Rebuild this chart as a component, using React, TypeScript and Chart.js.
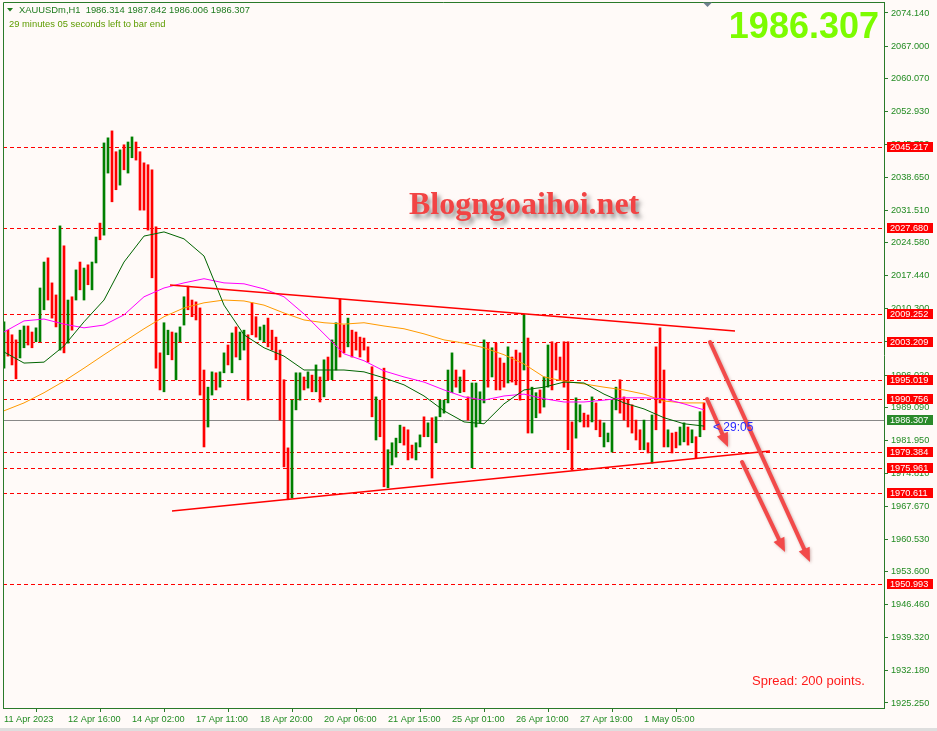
import React, { useEffect, useRef } from 'react';
import { Chart, registerables } from 'chart.js';

Chart.register(...registerables);

const W = 937;
const H = 731;

// ---------- text ----------
const symbolHeader = 'XAUUSDm,H1  1986.314 1987.842 1986.006 1986.307';
const timerText = '29 minutes 05 seconds left to bar end';
const bigPriceText = '1986.307';
const watermarkText = 'Blogngoaihoi.net';
const spreadText = 'Spread: 200 points.';
const countdownText = '< 29:05';
const lastPrice = 1986.307;

// ---------- price bars (one entry per 2 hourly bars) ----------
const hoursPerBar = 2;
const barHigh = [
  2007.5, 2005.7, 2004.7, 2003.6, 2005.7, 2006.6, 2006.6, 2005.3, 2006.2, 2014.8,
  2020.4, 2021.3, 2015.9, 2013.3, 2028.2, 2023.9, 2012.2, 2012.9, 2018.7, 2020.4,
  2019.1, 2019.8, 2020.4, 2025.8, 2028.8, 2046.1, 2047.2, 2048.7, 2044.2, 2044.6,
  2045.7, 2046.3, 2047.4, 2046.3, 2044.2, 2041.8, 2041.4, 2040.3, 2028.0, 2000.8,
  2007.3, 2005.7, 2005.3, 2005.1, 2006.4, 2012.9, 2015.2, 2012.2, 2011.8, 2010.5,
  1997.1, 1993.4, 1996.7, 1996.5, 1996.7, 2000.8, 2002.5, 2005.1, 2006.4, 2005.3,
  2005.7, 2004.7, 2011.6, 2008.6, 2006.4, 2006.8, 2008.3, 2005.7, 2004.2, 2001.4,
  1995.0, 1980.3, 1990.6, 1996.5, 1996.5, 1995.6, 1996.7, 1996.0, 1998.2, 1995.6,
  1999.3, 1999.9, 2003.6, 2007.3, 2012.4, 2006.8, 2008.3, 2005.7, 2005.3, 2004.2,
  2004.0, 2002.1, 1997.8, 1991.3, 1990.6, 1997.5, 1979.9, 1981.4, 1982.4, 1985.2,
  1984.8, 1984.2, 1980.9, 1981.4, 1983.1, 1987.0, 1985.7, 1986.8, 1987.0, 1990.6,
  1990.6, 1997.1, 2000.8, 1997.1, 1995.6, 1997.1, 1991.3, 1994.3, 1994.3, 1992.4,
  2003.6, 2002.9, 2001.9, 2002.9, 1999.7, 1998.6, 2002.1, 1999.9, 2001.4, 2000.8,
  2009.0, 2004.0, 1993.4, 1992.2, 1992.8, 1995.6, 2002.5, 2003.2, 2002.9, 1999.9,
  2003.2, 2003.2, 1985.9, 1991.1, 1989.6, 1987.8, 1987.4, 1991.3, 1990.0, 1986.3,
  1985.7, 1983.5, 1990.6, 1993.4, 1995.0, 1991.3, 1990.6, 1989.6, 1986.3, 1984.2,
  1986.3, 1981.4, 1987.4, 2002.1, 2006.2, 1997.1, 1984.2, 1983.5, 1983.7, 1984.8,
  1985.7, 1984.8, 1984.2, 1982.7, 1988.1, 1990.0,
];
const barLow = [
  1997.5, 2000.1, 1998.2, 1995.2, 1999.7, 2001.9, 2002.5, 2001.9, 2003.2, 2003.2,
  2010.1, 2012.2, 2008.3, 2006.4, 2001.4, 2000.8, 2002.9, 2005.7, 2012.2, 2014.4,
  2012.2, 2015.5, 2014.4, 2020.2, 2025.2, 2026.2, 2039.6, 2033.4, 2036.0, 2037.0,
  2040.3, 2039.6, 2042.9, 2042.4, 2031.6, 2031.6, 2027.3, 2017.0, 1997.5, 1992.8,
  1992.4, 2000.4, 1999.3, 1995.0, 2003.2, 2006.8, 2010.1, 2008.6, 2007.9, 1991.7,
  1980.5, 1984.8, 1991.7, 1992.8, 1993.4, 1996.5, 1998.2, 1996.5, 1999.9, 1999.3,
  2001.4, 1990.6, 2004.7, 2004.2, 2003.6, 2003.2, 2002.1, 2001.4, 1999.3, 1986.3,
  1976.2, 1969.1, 1969.5, 1988.5, 1990.6, 1992.8, 1993.2, 1992.4, 1992.4, 1990.2,
  1991.3, 1995.0, 1995.0, 1997.1, 1999.9, 2000.8, 2002.1, 1999.9, 2001.4, 1999.9,
  2001.4, 1998.8, 1987.0, 1982.0, 1982.7, 1971.9, 1971.7, 1976.6, 1978.3, 1981.4,
  1980.9, 1977.7, 1978.1, 1977.7, 1980.5, 1982.7, 1982.7, 1973.8, 1981.4, 1987.0,
  1987.8, 1990.0, 1992.2, 1993.4, 1992.2, 1992.4, 1986.3, 1976.0, 1984.8, 1985.7,
  1990.0, 1993.4, 1995.6, 1992.8, 1992.8, 1993.4, 1994.3, 1994.5, 1993.9, 1990.6,
  1997.1, 1983.5, 1983.5, 1986.8, 1987.8, 1989.1, 1993.4, 1992.8, 1997.1, 1995.0,
  1993.4, 1979.9, 1975.5, 1982.4, 1985.9, 1984.8, 1984.8, 1985.9, 1984.2, 1982.7,
  1980.5, 1981.6, 1979.4, 1988.5, 1987.8, 1986.3, 1984.8, 1983.5, 1982.0, 1979.9,
  1979.9, 1979.2, 1977.0, 1984.2, 1990.0, 1980.5, 1980.5, 1979.2, 1980.3, 1980.9,
  1981.6, 1980.9, 1981.4, 1978.1, 1982.7, 1984.2,
];
// 1 = bullish (green), 0 = bearish (red)
const barUp = [
  1, 0, 0, 0, 1, 1, 0, 0, 1, 1,
  1, 0, 0, 0, 1, 0, 1, 0, 1, 0,
  1, 0, 1, 1, 0, 1, 1, 0, 0, 1,
  0, 1, 1, 0, 0, 0, 0, 0, 0, 0,
  1, 1, 0, 1, 1, 1, 0, 0, 0, 0,
  0, 1, 1, 0, 1, 1, 0, 1, 0, 1,
  1, 0, 0, 0, 1, 1, 0, 0, 0, 0,
  0, 0, 1, 1, 1, 0, 1, 0, 1, 0,
  1, 0, 1, 1, 0, 0, 1, 0, 0, 0,
  0, 0, 0, 1, 0, 0, 1, 1, 1, 1,
  0, 0, 0, 1, 1, 0, 1, 0, 1, 1,
  1, 1, 1, 0, 1, 0, 0, 1, 1, 1,
  1, 0, 1, 0, 0, 0, 1, 0, 0, 0,
  1, 0, 1, 1, 0, 1, 1, 0, 0, 0,
  0, 0, 0, 1, 1, 0, 0, 1, 0, 0,
  1, 1, 1, 1, 0, 0, 0, 0, 0, 0,
  1, 0, 1, 0, 0, 0, 1, 0, 0, 1,
  1, 0, 1, 0, 1, 0,
];

// ---------- moving averages (sampled every 10 hourly bars) ----------
const maStep = 10;
const maFast = [
  2001.0, 1998.6, 1998.8, 2002.3, 2007.5, 2012.2, 2020.4, 2026.0, 2026.9, 2025.4,
  2021.7, 2011.1, 2004.7, 2001.9, 2000.1, 1997.1, 1997.1, 1997.1, 1996.7, 1995.4,
  1993.9, 1991.5, 1988.3, 1985.9, 1985.5, 1989.8, 1992.8, 1993.4, 1994.5, 1994.3,
  1991.9, 1990.0, 1988.7, 1986.8, 1985.5, 1985.0,
];
const maMid = [
  2005.3, 2007.7, 2008.1, 2007.0, 2006.2, 2006.8, 2009.0, 2012.9, 2014.8, 2015.9,
  2016.8, 2015.9, 2015.7, 2014.6, 2012.9, 2009.2, 2004.9, 2000.6, 1999.1, 1996.9,
  1995.6, 1994.5, 1992.8, 1991.3, 1990.6, 1991.5, 1991.9, 1990.9, 1990.2, 1990.2,
  1990.6, 1991.1, 1991.1, 1990.9, 1989.8, 1988.5,
];
const maSlow = [
  1988.3, 1990.0, 1992.2, 1994.7, 1997.5, 2000.4, 2003.2, 2006.0, 2008.6, 2010.5,
  2011.6, 2012.2, 2012.0, 2011.1, 2009.4, 2007.9, 2007.3, 2007.0, 2007.3, 2006.6,
  2006.0, 2004.9, 2003.6, 2002.9, 2001.9, 2000.4, 1998.4, 1995.6, 1994.7, 1994.1,
  1993.4, 1992.8, 1991.9, 1990.4, 1990.0, 1990.0,
];

// ---------- levels, trend lines, arrows ----------
const levelPrices = [2045.217, 2027.68, 2009.252, 2003.209, 1995.019, 1990.756, 1979.384, 1975.961, 1970.611, 1950.993];
const trendUpperBars = [83, 365.5];
const trendUpperPrices = [2015.45, 2005.53];
const trendLowerBars = [84, 383];
const trendLowerPrices = [1966.69, 1979.63];
const arrowStartBars = [353, 351.5, 369];
const arrowStartPrices = [2003.15, 1990.85, 1977.26];
const arrowEndBars = [403, 362, 390.5];
const arrowEndPrices = [1955.7, 1980.5, 1957.84];

// ---------- axes ----------
const yMin = 1924.17;
const yMax = 2076.51;
const yTickValues = [
  2074.14, 2067.0, 2060.07, 2052.93, 2045.79, 2038.65, 2031.51, 2024.58, 2017.44, 2010.3,
  2003.16, 1996.02, 1989.09, 1981.95, 1974.81, 1967.67, 1960.53, 1953.6, 1946.46, 1939.32,
  1932.18, 1925.25,
];
const xMin = -0.5;
const xMax = 440;
const xTickBars = [0, 32, 64, 96, 128, 160, 192, 224, 256, 288, 320];
const xTickLabels = [
  '11 Apr 2023', '12 Apr 16:00', '14 Apr 02:00', '17 Apr 11:00', '18 Apr 20:00', '20 Apr 06:00',
  '21 Apr 15:00', '25 Apr 01:00', '26 Apr 10:00', '27 Apr 19:00', '1 May 05:00',
];

const AXIS_GREEN = '#228b22';
const FRAME_GREEN = '#2a7a2a';
const UP_COLOR = '#008000';
const DOWN_COLOR = '#ff0000';
const FONT = 'Liberation Sans';

const mt4Plugin = {
  id: 'mt4Decor',
  beforeDraw(chart: any) {
    const ctx = chart.ctx;
    ctx.save();
    ctx.fillStyle = '#fffaf8';
    ctx.fillRect(0, 0, W, H);
    ctx.fillStyle = '#dedede';
    ctx.fillRect(0, 728, W, 3);
    ctx.restore();
  },
  beforeDatasetsDraw(chart: any) {
    const { ctx, chartArea: a, scales } = chart;
    const y = scales.y;
    ctx.save();
    // current price line
    const py = Math.round(y.getPixelForValue(lastPrice)) + 0.5;
    ctx.strokeStyle = '#888888';
    ctx.lineWidth = 1;
    ctx.beginPath();
    ctx.moveTo(a.left, py);
    ctx.lineTo(a.right, py);
    ctx.stroke();
    // dashed levels
    ctx.strokeStyle = '#ff0000';
    ctx.setLineDash([4, 3]);
    levelPrices.forEach((p) => {
      const ly = Math.round(y.getPixelForValue(p)) + 0.5;
      ctx.beginPath();
      ctx.moveTo(a.left, ly);
      ctx.lineTo(a.right, ly);
      ctx.stroke();
    });
    ctx.restore();
  },
  afterDatasetsDraw(chart: any) {
    const { ctx, scales } = chart;
    const x = scales.x;
    const y = scales.y;
    ctx.save();
    // watermark
    ctx.font = 'bold 32px "Liberation Serif"';
    ctx.textBaseline = 'alphabetic';
    ctx.textAlign = 'left';
    ctx.shadowColor = 'rgba(60,60,60,0.55)';
    ctx.shadowOffsetX = 3;
    ctx.shadowOffsetY = 4;
    ctx.shadowBlur = 4;
    ctx.fillStyle = '#f24444';
    ctx.fillText(watermarkText, 409, 214);
    ctx.shadowColor = 'transparent';

    // arrows
    ctx.shadowColor = 'rgba(120,40,40,0.35)';
    ctx.shadowBlur = 3;
    ctx.shadowOffsetX = 1;
    ctx.shadowOffsetY = 1;
    ctx.strokeStyle = '#f24a4a';
    ctx.fillStyle = '#f24a4a';
    ctx.lineWidth = 4;
    ctx.lineCap = 'round';
    for (let i = 0; i < arrowStartBars.length; i++) {
      const x1 = x.getPixelForValue(arrowStartBars[i]);
      const y1 = y.getPixelForValue(arrowStartPrices[i]);
      const x2 = x.getPixelForValue(arrowEndBars[i]);
      const y2 = y.getPixelForValue(arrowEndPrices[i]);
      const ang = Math.atan2(y2 - y1, x2 - x1);
      const headL = 14;
      const headW = 6;
      const bx = x2 - headL * Math.cos(ang);
      const by = y2 - headL * Math.sin(ang);
      ctx.beginPath();
      ctx.moveTo(x1, y1);
      ctx.lineTo(bx, by);
      ctx.stroke();
      ctx.beginPath();
      ctx.moveTo(x2, y2);
      ctx.lineTo(bx + headW * Math.sin(ang), by - headW * Math.cos(ang));
      ctx.lineTo(bx - headW * Math.sin(ang), by + headW * Math.cos(ang));
      ctx.closePath();
      ctx.fill();
    }
    ctx.shadowColor = 'transparent';

    // countdown
    ctx.font = `12px "${FONT}"`;
    ctx.textBaseline = 'middle';
    ctx.fillStyle = '#2a2aff';
    ctx.fillText(countdownText, 713, y.getPixelForValue(lastPrice) + 8);

    // spread
    ctx.font = `13px "${FONT}"`;
    ctx.fillStyle = '#ff1a1a';
    ctx.textBaseline = 'alphabetic';
    ctx.fillText(spreadText, 752, 685);
    ctx.restore();
  },
  afterDraw(chart: any) {
    const { ctx, chartArea: a, scales } = chart;
    const y = scales.y;
    ctx.save();
    // frame top/left
    ctx.strokeStyle = FRAME_GREEN;
    ctx.lineWidth = 1;
    ctx.beginPath();
    ctx.moveTo(a.left + 0.5, a.bottom);
    ctx.lineTo(a.left + 0.5, a.top + 0.5);
    ctx.lineTo(a.right, a.top + 0.5);
    ctx.stroke();

    // level boxes on price axis
    ctx.font = `9.2px "${FONT}"`;
    ctx.textBaseline = 'middle';
    ctx.textAlign = 'left';
    levelPrices.forEach((p) => {
      const ly = Math.round(y.getPixelForValue(p));
      ctx.fillStyle = '#ff0000';
      ctx.fillRect(887, ly - 5, 46, 10);
      ctx.fillStyle = '#ffffff';
      ctx.fillText(p.toFixed(3), 890, ly + 0.5);
    });
    const cy = Math.round(y.getPixelForValue(lastPrice));
    ctx.fillStyle = '#2a8a2a';
    ctx.fillRect(887, cy - 5, 46, 10);
    ctx.fillStyle = '#ffffff';
    ctx.fillText(lastPrice.toFixed(3), 890, cy + 0.5);

    // header
    ctx.fillStyle = '#1e7a1e';
    ctx.beginPath();
    ctx.moveTo(7, 8);
    ctx.lineTo(13, 8);
    ctx.lineTo(10, 11.5);
    ctx.closePath();
    ctx.fill();
    ctx.font = `9.4px "${FONT}"`;
    ctx.fillStyle = '#1e7a1e';
    ctx.fillText(symbolHeader, 19, 10);
    ctx.fillStyle = '#5d9c00';
    ctx.fillText(timerText, 9, 24);

    // shift marker
    ctx.fillStyle = '#708090';
    ctx.beginPath();
    ctx.moveTo(703, 2.5);
    ctx.lineTo(712, 2.5);
    ctx.lineTo(707.5, 7);
    ctx.closePath();
    ctx.fill();

    // big price
    ctx.font = `bold 36px "${FONT}"`;
    ctx.textAlign = 'right';
    ctx.textBaseline = 'alphabetic';
    ctx.fillStyle = '#7cfc00';
    ctx.fillText(bigPriceText, 879, 38);
    ctx.restore();
  },
};

export default function App() {
  const ref = useRef<HTMLCanvasElement | null>(null);

  useEffect(() => {
    if (!ref.current) return;
    const barData = barHigh.map((h, i) => ({ x: i * hoursPerBar, y: [barLow[i], h] }));
    const barColors = barUp.map((u) => (u ? UP_COLOR : DOWN_COLOR));
    const maLine = (vals: number[]) => vals.map((v, j) => ({ x: j * maStep, y: v }));

    const chart = new Chart(ref.current, {
      type: 'bar',
      data: {
        datasets: [
          {
            type: 'line',
            data: maLine(maFast) as any,
            borderColor: '#006400',
            borderWidth: 1,
            pointRadius: 0,
            tension: 0,
            order: 1,
          } as any,
          {
            type: 'line',
            data: maLine(maMid) as any,
            borderColor: '#ff00ff',
            borderWidth: 1,
            pointRadius: 0,
            tension: 0,
            order: 2,
          } as any,
          {
            type: 'line',
            data: maLine(maSlow) as any,
            borderColor: '#ff9a00',
            borderWidth: 1,
            pointRadius: 0,
            tension: 0,
            order: 3,
          } as any,
          {
            type: 'line',
            data: trendUpperBars.map((b, i) => ({ x: b, y: trendUpperPrices[i] })) as any,
            borderColor: '#ff0000',
            borderWidth: 1.5,
            pointRadius: 0,
            order: 0,
          } as any,
          {
            type: 'line',
            data: trendLowerBars.map((b, i) => ({ x: b, y: trendLowerPrices[i] })) as any,
            borderColor: '#ff0000',
            borderWidth: 1.5,
            pointRadius: 0,
            order: 0,
          } as any,
          {
            type: 'bar',
            data: barData as any,
            backgroundColor: barColors,
            borderWidth: 0,
            barThickness: 2,
            grouped: false,
            order: 10,
          } as any,
        ],
      },
      options: {
        responsive: false,
        animation: false,
        devicePixelRatio: 1,
        events: [],
        layout: { padding: { left: 3, top: 2, right: 0, bottom: 0 } },
        plugins: { legend: { display: false }, tooltip: { enabled: false } },
        scales: {
          x: {
            type: 'linear',
            min: xMin,
            max: xMax,
            offset: false,
            afterBuildTicks: (s: any) => {
              s.ticks = xTickBars.map((v) => ({ value: v }));
            },
            afterFit: (s: any) => {
              s.height = 23;
              s.paddingLeft = 0;
              s.paddingRight = 0;
            },
            ticks: {
              autoSkip: false,
              maxRotation: 0,
              minRotation: 0,
              align: 'start',
              padding: 2,
              color: AXIS_GREEN,
              font: { family: FONT, size: 9.2 },
              callback: (v: any) => {
                const i = xTickBars.indexOf(Number(v));
                return i >= 0 ? xTickLabels[i] : '';
              },
            },
            grid: { drawOnChartArea: false, drawTicks: true, tickLength: 4, color: FRAME_GREEN },
            border: { display: true, color: FRAME_GREEN, width: 1 },
          },
          y: {
            type: 'linear',
            position: 'right',
            min: yMin,
            max: yMax,
            afterBuildTicks: (s: any) => {
              s.ticks = yTickValues.map((v) => ({ value: v }));
            },
            afterFit: (s: any) => {
              s.width = 53;
              s.paddingTop = 0;
              s.paddingBottom = 0;
            },
            ticks: {
              autoSkip: false,
              padding: 3,
              color: AXIS_GREEN,
              font: { family: FONT, size: 9.2 },
              callback: (v: any) => Number(v).toFixed(3),
            },
            grid: { drawOnChartArea: false, drawTicks: true, tickLength: 4, color: FRAME_GREEN },
            border: { display: true, color: FRAME_GREEN, width: 1 },
          },
        },
      } as any,
      plugins: [mt4Plugin],
    });
    return () => chart.destroy();
  }, []);

  return (
    <div style={{ position: 'absolute', left: 0, top: 0, width: W, height: H }}>
      <canvas ref={ref} width={W} height={H} style={{ width: W, height: H, display: 'block' }} />
    </div>
  );
}
